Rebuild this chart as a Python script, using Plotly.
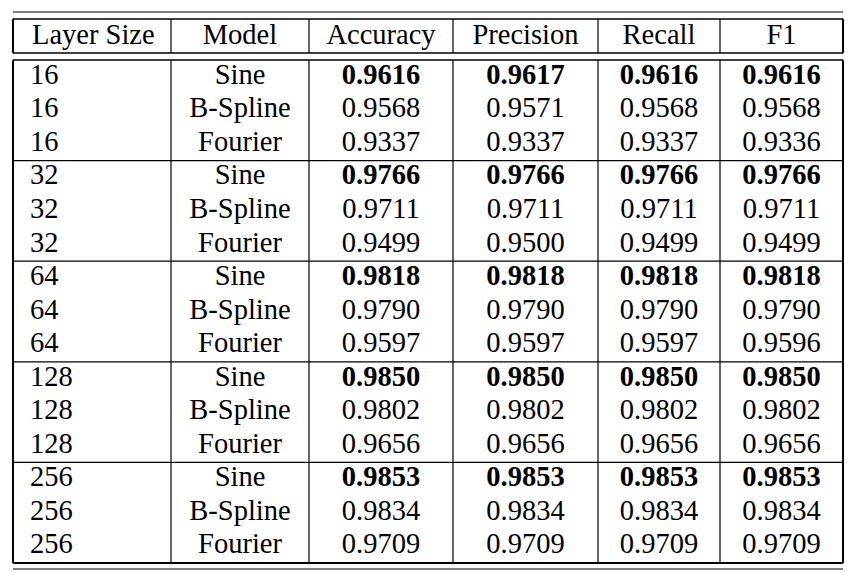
import plotly.graph_objects as go

# table contents
headers = ["Layer Size", "Model", "Accuracy", "Precision", "Recall", "F1"]
layer_sizes = [16, 16, 16, 32, 32, 32, 64, 64, 64, 128, 128, 128, 256, 256, 256]
models = ["Sine", "B-Spline", "Fourier"] * 5
accuracy = [0.9616, 0.9568, 0.9337, 0.9766, 0.9711, 0.9499, 0.9818, 0.9790, 0.9597,
            0.9850, 0.9802, 0.9656, 0.9853, 0.9834, 0.9709]
precision = [0.9617, 0.9571, 0.9337, 0.9766, 0.9711, 0.9500, 0.9818, 0.9790, 0.9597,
             0.9850, 0.9802, 0.9656, 0.9853, 0.9834, 0.9709]
recall = [0.9616, 0.9568, 0.9337, 0.9766, 0.9711, 0.9499, 0.9818, 0.9790, 0.9597,
          0.9850, 0.9802, 0.9656, 0.9853, 0.9834, 0.9709]
f1 = [0.9616, 0.9568, 0.9336, 0.9766, 0.9711, 0.9499, 0.9818, 0.9790, 0.9596,
      0.9850, 0.9802, 0.9656, 0.9853, 0.9834, 0.9709]

# layout of the table, in pixels of the page
W, H = 856, 583
off = 8  # default body margin of the html page
col_edges = [13, 171, 309, 453, 598, 720, 843]
rule_top, rule_bot = 12, 569
head_top, head_bot = 19, 53
body_top, body_bot = 60, 563
group = 3
font = "Liberation Serif"
fsize = 28.5

n = len(layer_sizes)
row_h = (body_bot - body_top) / n
row_y = [body_top + row_h * (i + 0.5) for i in range(n)]
head_y = (head_top + head_bot) / 2 + 1
col_mid = [(a + b) / 2 for a, b in zip(col_edges[:-1], col_edges[1:])]


def fmt_col(vals):
    out = []
    for i, v in enumerate(vals):
        g = i // group
        best = max(vals[g * group:(g + 1) * group])
        s = f"{v:.4f}"
        out.append(f"<b>{s}</b>" if v == best else s)
    return out


columns = [[str(s) for s in layer_sizes], models,
           fmt_col(accuracy), fmt_col(precision), fmt_col(recall), fmt_col(f1)]

fig = go.Figure()
tf = dict(family=font, size=fsize, color="black")

# header row
fig.add_trace(go.Scatter(
    x=[col_edges[0] + 19] + col_mid[1:], y=[head_y] * len(headers),
    text=headers, mode="text", textfont=tf, hoverinfo="skip",
    textposition=["middle right"] + ["middle center"] * (len(headers) - 1)))

# body columns
for j, col in enumerate(columns):
    if j == 0:
        xs, pos = [col_edges[0] + 17] * n, "middle right"
    else:
        xs, pos = [col_mid[j]] * n, "middle center"
    fig.add_trace(go.Scatter(x=xs, y=row_y, text=col, mode="text", textfont=tf,
                             textposition=pos, hoverinfo="skip"))


def hline(y, x0, x1, w):
    fig.add_shape(type="line", x0=x0, x1=x1, y0=y, y1=y, xref="x", yref="y",
                  line=dict(color="black", width=w))


def vline(x, y0, y1, w):
    fig.add_shape(type="line", x0=x, x1=x, y0=y0, y1=y1, xref="x", yref="y",
                  line=dict(color="black", width=w))


left, right = col_edges[0], col_edges[-1]
hline(rule_top, left, right, 1)
hline(rule_bot, left, right, 1)

for top, bot in [(head_top, head_bot), (body_top, body_bot)]:
    hline(top, left, right, 1.5)
    hline(bot, left, right, 2 if bot == body_bot else 1.5)
    vline(left, top, bot, 2)
    vline(right, top, bot, 2)
    for x in col_edges[1:-1]:
        vline(x, top, bot, 1.2)

# separators between layer-size groups
for k in range(1, n // group):
    hline(body_top + row_h * group * k, left, right, 1.2)

fig.update_xaxes(range=[off, W + off], visible=False, fixedrange=True)
fig.update_yaxes(range=[H + off, off], visible=False, fixedrange=True)
fig.update_layout(width=W, height=H, margin=dict(l=0, r=0, t=0, b=0),
                  paper_bgcolor="white", plot_bgcolor="white", showlegend=False)

fig.write_html("out.html")
